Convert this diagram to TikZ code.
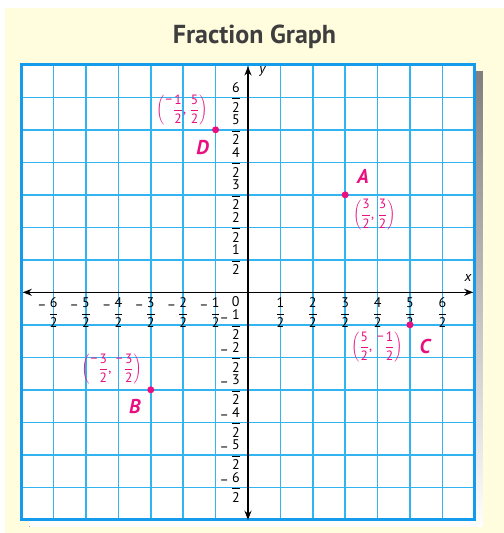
\documentclass[tikz,border=0pt]{standalone}
\usepackage{fontspec}
\setmainfont{PT Sans}
\usetikzlibrary{arrows.meta}

\definecolor{paper}{RGB}{255,253,222}
\definecolor{gridblue}{RGB}{50,180,240}
\definecolor{edgeblue}{RGB}{20,155,235}
\definecolor{pink}{RGB}{232,16,128}
\definecolor{shade}{RGB}{200,200,205}
\definecolor{titlegray}{RGB}{62,62,62}

\newcommand{\frc}[1]{\displaystyle\frac{\mbox{#1}}{\mbox{2}}}
\newcommand{\half}[1]{$\frc{#1}$}
\newcommand{\neghalf}[1]{\llap{\raisebox{0.55em}{\textendash}\hspace{2pt}}\half{#1}}
\newcommand{\raisedminus}{\mbox{\raisebox{0.75em}{\textendash}}}

\tikzset{
  gridline/.style={gridblue, line width=1.6pt},
  edgeline/.style={edgeblue, line width=3pt},
  axisline/.style={black, line width=1.5pt, {Stealth[length=9pt,width=7pt]}-{Stealth[length=9pt,width=7pt]}},
  tick/.style={inner sep=0pt, font=\fontsize{14}{15}\selectfont},
  dot/.style={circle, fill=pink, inner sep=0pt, minimum size=7pt},
  ptname/.style={text=pink, inner sep=0pt, font=\bfseries\itshape\fontsize{20}{22}\selectfont},
  ptcoord/.style={text=pink, inner sep=0pt, font=\fontsize{13.5}{15}\selectfont},
}

\begin{document}
\begin{tikzpicture}[x=32.4pt, y=32.5pt]
            \useasboundingbox (-7.654,-7.406) rectangle (7.901,8.994);
            \fill[paper] (-7.5,-7.406) rectangle (7.901,8.75);
            \node (title) at (0.2,7.86) {\fontsize{26}{28}\selectfont\bfseries\color{titlegray}Fraction Graph};

            % grid with its shadow
            \fill[shade] (-6.75,-7.22) rectangle (7.25,6.78);
            \fill[white] (-7,-7) rectangle (7,7);
            \foreach \i in {-6,...,6} {
              \draw[gridline] (\i,-7) -- (\i,7);
              \draw[gridline] (-7,\i) -- (7,\i);
            }
            \draw[edgeline] (-7,-7) rectangle (7,7);

            % axes
            \coordinate (xl) at (-6.95,0);
            \coordinate (xr) at (6.95,0);
            \coordinate (yt) at (0,6.95);
            \coordinate (yb) at (0,-7.0);
            \draw[axisline] (xl) -- (xr);
            \draw[axisline] (yb) -- (yt);
            \node[tick] (xlab) at (6.79,0.44) {\itshape x};
            \node[tick] (ylab) at (0.45,6.8) {\itshape y};
            \node[tick] (origin) at (-0.38,-0.3) {0};

            \foreach \k in {1,...,6} {
              \node[tick] (xp\k) at (\k,-0.63) {\half{\k}};
              \node[tick] (xn\k) at (-\k,-0.63) {\neghalf{\k}};
              \node[tick] (yp\k) at (-0.37,\k) {\half{\k}};
              \node[tick] (yn\k) at (-0.37,-\k) {\neghalf{\k}};
            }

            % points
            \node[dot] (A) at (3,3) {};
            \node[dot] (B) at (-3,-3) {};
            \node[dot] (C) at (5,-1) {};
            \node[dot] (D) at (-1,5) {};
            \node[ptname] (Aname) at (3.55,3.58) {A};
            \node[ptname] (Bname) at (-3.49,-3.52) {B};
            \node[ptname] (Cname) at (5.46,-1.67) {C};
            \node[ptname] (Dname) at (-1.4,4.47) {D};
            \node[ptcoord] (Acoord) at (3.9,2.39) {$\left(\frc{3}\mbox{, }\frc{3}\right)$};
            \node[ptcoord] (Bcoord) at (-4.21,-2.36) {$\left(\raisedminus\frc{3}\mbox{, }\raisedminus\frc{3}\right)$};
            \node[ptcoord] (Ccoord) at (3.98,-1.68) {$\left(\frc{5}\mbox{, }\raisedminus\frc{1}\right)$};
            \node[ptcoord] (Dcoord) at (-2.04,5.61) {$\left(\raisedminus\frc{1}\mbox{, }\frc{5}\right)$};
        \end{tikzpicture}
\end{document}
